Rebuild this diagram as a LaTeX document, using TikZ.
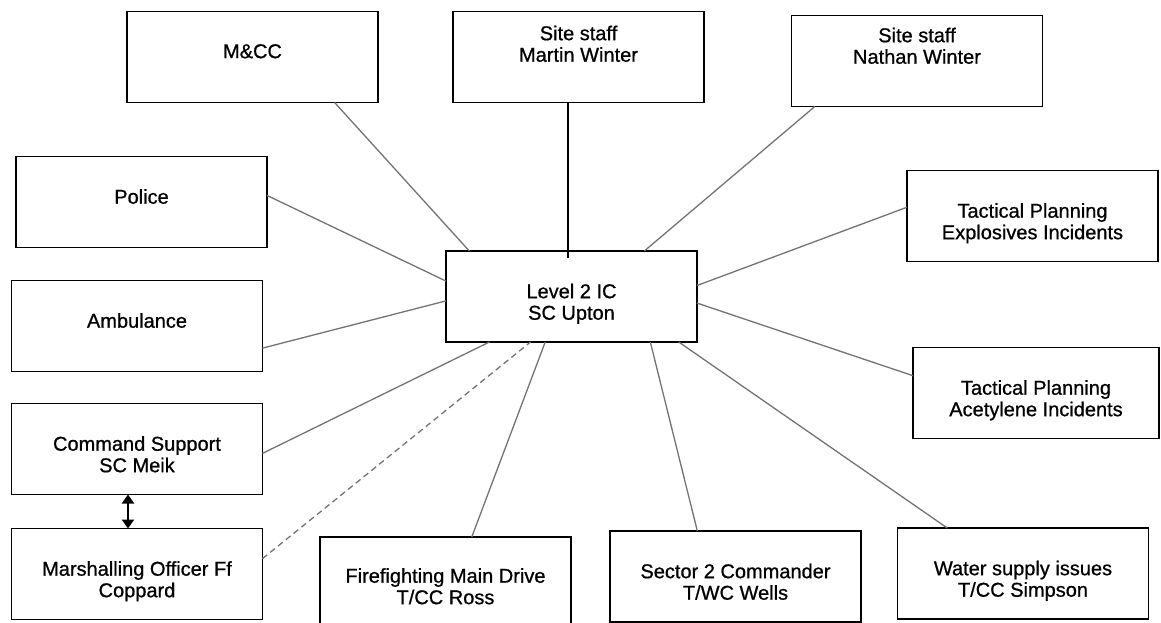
\documentclass[tikz,border=0pt]{standalone}
\usepackage{fontspec}
\setmainfont{Liberation Sans}[BoldFont={Liberation Sans}, BoldFeatures={FakeBold=0.8}]
\usetikzlibrary{arrows.meta}
\begin{document}
\begin{tikzpicture}[x=1pt,y=-1pt,
    caja/.style={draw, line width=1.8pt, minimum width=251pt, minimum height=91pt, inner sep=0pt, outer sep=0pt},
    texto/.style={anchor=north, inner sep=0pt, align=center, font=\fontsize{20pt}{21.5pt}\selectfont\bfseries},
    enlace/.style={draw=black!55, line width=1.3pt}]

  % Marco de la figura
  \path[use as bounding box, clip] (0,0) rectangle (1161,623);

  % Parámetros
  \def\bajo{32.5pt} % Distancia del texto al borde superior
  \def\alto{14pt} % Igual, para el personal del sitio

  % Cajas de arriba
  \node[caja, label={[texto, yshift=-\bajo]north:M\&CC}] (mcc) at (252.5,57) {};
  \node[caja, label={[texto, yshift=-\alto]north:Site staff\\Martin Winter}] (martin) at (578.5,57) {};
  \node[caja, label={[texto, yshift=-12pt]north:Site staff\\Nathan Winter}] (nathan) at (917,61) {};

  % Cajas de la izquierda
  \node[caja, label={[texto, yshift=-\bajo]north:Police}] (police) at (141.5,202) {};
  \node[caja, label={[texto, yshift=-\bajo]north:Ambulance}] (amb) at (137,326) {};
  \node[caja, label={[texto, yshift=-\bajo]north:Command Support\\SC Meik}] (cmd) at (137,449) {};
  \node[caja, label={[texto, yshift=-\bajo]north:Marshalling Officer Ff\\Coppard}] (marsh) at (137,574) {};

  % Caja central
  \node[caja, label={[texto, yshift=-\bajo]north:Level 2 IC\\SC Upton}] (ic) at (571.5,296.5) {};

  % Cajas de la derecha
  \node[caja, label={[texto, yshift=-\bajo]north:Tactical Planning\\Explosives Incidents}] (expl) at (1032.5,216) {};
  \node[caja, minimum width=246pt, label={[texto, yshift=-\bajo]north:Tactical Planning\\Acetylene Incidents}] (acet) at (1036,393) {};

  % Cajas de abajo
  \node[caja, label={[texto, yshift=-31pt]north:Firefighting Main Drive\\T/CC Ross}] (fire) at (445.5,582.5) {};
  \node[caja, label={[texto, yshift=-\bajo]north:Sector 2 Commander\\T/WC Wells}] (sector) at (735.5,576.5) {};
  \node[caja, label={[texto, yshift=-\bajo]north:Water supply issues\\T/CC Simpson}] (water) at (1023,573.5) {};

  % Enlaces con el mando
  \foreach \a/\b in {mcc.-29/ic.156, nathan.-156/ic.32, police.3/ic.173, amb.-10/ic.-178,
                     cmd.-2/ic.-151, ic.-120/fire.60, ic.-30/sector.130, ic.-23/water.149,
                     ic.5/expl.176, ic.-3/acet.172} {
    \draw[enlace] (\a) -- (\b);
  }
  \draw[enlace, dash pattern=on 6pt off 4pt] (marsh.7) -- (ic.-132);
  \draw[line width=1.8pt, shorten >=-7pt] (martin.-103) -- (martin.-103 |- ic.north);

  % Flecha doble
  \draw[line width=2.4pt, {Triangle[width=12pt,length=9pt]}-{Triangle[width=12pt,length=9pt]}]
    ([xshift=-9pt]cmd.south) -- ([xshift=-9pt]marsh.north);

\end{tikzpicture}
\end{document}
